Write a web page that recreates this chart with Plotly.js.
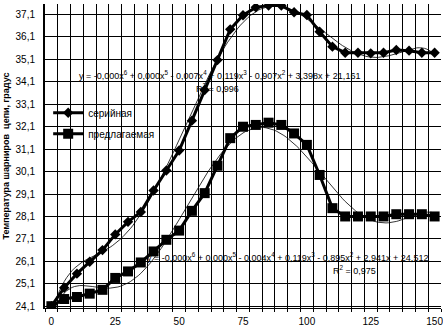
<!DOCTYPE html>
<html>
<head>
<meta charset="utf-8">
<script src="https://cdn.plot.ly/plotly-3.0.1.min.js"></script>
<style>html,body{margin:0;padding:0;background:#fff;}#chart{width:443px;height:328px;}</style>
</head>
<body>
<div id="chart"></div>
<script>
// ---- data ----
const xValues = [0,5,10,15,20,25,30,35,40,45,50,55,60,65,70,75,80,85,90,95,100,105,110,115,120,125,130,135,140,145,150];
const serialTemp = [24.1,24.92,25.55,26.08,26.6,27.3,27.86,28.3,29.26,30.15,31.04,32.37,33.74,35.07,36.44,37.07,37.42,37.5,37.5,37.2,37.08,36.33,35.67,35.4,35.4,35.37,35.4,35.52,35.49,35.4,35.4];
const proposedTemp = [24.1,24.42,24.51,24.66,24.83,25.36,25.65,26.05,26.54,27.06,27.47,28.35,29.14,30.36,31.59,32.1,32.18,32.28,32.18,31.8,31.29,29.95,28.47,28.1,28.1,28.1,28.1,28.2,28.2,28.2,28.1];
const seriesNames = ['серийная', 'предлагаемая'];
const yTickVals = [24.1,25.1,26.1,27.1,28.1,29.1,30.1,31.1,32.1,33.1,34.1,35.1,36.1,37.1];
const yTickText = ['24,1','25,1','26,1','27,1','28,1','29,1','30,1','31,1','32,1','33,1','34,1','35,1','36,1','37,1'];
const xTickVals = [0,25,50,75,100,125,150];
const eq1 = 'y = -0,000x<sup>6</sup> + 0,000x<sup>5</sup> - 0,007x<sup>4</sup> + 0,119x<sup>3</sup> - 0,907x<sup>2</sup> + 3,398x + 21,161';
const r1 = 'R<sup>2</sup> = 0,996';
const eq2 = 'y = -0,000x<sup>6</sup> + 0,000x<sup>5</sup> - 0,004x<sup>4</sup> + 0,119x<sup>3</sup> - 0,895x<sup>2</sup> + 2,941x + 24,512';
const r2 = 'R<sup>2</sup> = 0,975';
const yTitle = 'Температура шарниров  цепи, градус';

// ---- polynomial (order 6) least-squares trendline computed from the data ----
function polyFit(xs, ys, deg) {
  const n = deg + 1, c = 75, s = 75;
  const A = Array.from({length:n}, () => new Array(n).fill(0));
  const b = new Array(n).fill(0);
  xs.forEach((x, k) => {
    const u = (x - c) / s;
    const p = []; for (let j = 0; j < n; j++) p.push(Math.pow(u, j));
    for (let i = 0; i < n; i++) { b[i] += p[i] * ys[k]; for (let j = 0; j < n; j++) A[i][j] += p[i] * p[j]; }
  });
  for (let i = 0; i < n; i++) {
    let m = i; for (let r = i + 1; r < n; r++) if (Math.abs(A[r][i]) > Math.abs(A[m][i])) m = r;
    [A[i], A[m]] = [A[m], A[i]]; [b[i], b[m]] = [b[m], b[i]];
    for (let r = i + 1; r < n; r++) { const f = A[r][i] / A[i][i]; for (let j = i; j < n; j++) A[r][j] -= f * A[i][j]; b[r] -= f * b[i]; }
  }
  const coef = new Array(n).fill(0);
  for (let i = n - 1; i >= 0; i--) { let sum = b[i]; for (let j = i + 1; j < n; j++) sum -= A[i][j] * coef[j]; coef[i] = sum / A[i][i]; }
  return x => { const u = (x - c) / s; let v = 0; for (let j = n - 1; j >= 0; j--) v = v * u + coef[j]; return v; };
}
const fx = []; for (let x = xValues[0]; x <= xValues[xValues.length-1]; x += 1) fx.push(x);
const f1 = polyFit(xValues, serialTemp, 6), f2 = polyFit(xValues, proposedTemp, 6);

const FONT = 'Liberation Sans, Arial, sans-serif';
const traces = [
  {x: fx, y: fx.map(f1), mode: 'lines', line: {color: '#000', width: 0.8}, showlegend: false, hoverinfo: 'skip'},
  {x: fx, y: fx.map(f2), mode: 'lines', line: {color: '#000', width: 0.8}, showlegend: false, hoverinfo: 'skip'},
  {x: xValues, y: serialTemp, name: seriesNames[0], mode: 'lines+markers', line: {color: '#000', width: 3},
   marker: {symbol: 'diamond', size: 8, color: '#000'}, legendgroup: 'a'},
  {x: xValues, y: proposedTemp, name: seriesNames[1], mode: 'lines+markers', line: {color: '#000', width: 3},
   marker: {symbol: 'square', size: 10, color: '#000'}, legendgroup: 'b'}
];

const layout = {
  width: 443, height: 328,
  margin: {l: 45, r: 2, t: 4, b: 20, pad: 0},
  paper_bgcolor: '#fff', plot_bgcolor: '#fff',
  font: {family: FONT, size: 10, color: '#000'},
  showlegend: true,
  legend: {x: 0.008, y: 0.69, xanchor: 'left', yanchor: 'top', bgcolor: 'rgba(0,0,0,0)',
           font: {family: FONT, size: 10, color: '#000'}, traceorder: 'grouped', tracegroupgap: 2, itemwidth: 30},
  xaxis: {range: [-2.5, 152.5], tickvals: xTickVals, showgrid: false, zeroline: false,
          showline: true, linecolor: '#000', linewidth: 1, ticks: '', ticklabelstandoff: 4, ticklabeloverflow: 'allow',
          minor: {tick0: 2.5, dtick: 5, showgrid: true, gridcolor: '#000', gridwidth: 1, ticks: 'outside', ticklen: 3, tickcolor: '#000'},
          tickfont: {family: FONT, size: 10}},
  yaxis: {range: [24.02, 37.57], tickvals: yTickVals, ticktext: yTickText, showgrid: true, gridcolor: '#000', gridwidth: 1,
          zeroline: false, showline: true, linecolor: '#000', linewidth: 2, ticks: '', ticklabelstandoff: 6,
          tickfont: {family: FONT, size: 10},
          title: {text: yTitle, font: {family: FONT, size: 9, weight: 'bold'}, standoff: 4}},
  annotations: [
    {xref: 'paper', yref: 'paper', x: (219 - 45) / 396, y: (308 - 75) / 304, text: eq1, showarrow: false,
     font: {family: FONT, size: 9}, xanchor: 'center', yanchor: 'middle'},
    {xref: 'paper', yref: 'paper', x: (217 - 45) / 396, y: (308 - 88) / 304, text: r1, showarrow: false,
     font: {family: FONT, size: 9}, xanchor: 'center', yanchor: 'middle'},
    {xref: 'paper', yref: 'paper', x: (287 - 45) / 396, y: (308 - 257) / 304, text: eq2, showarrow: false,
     font: {family: FONT, size: 9}, xanchor: 'center', yanchor: 'middle'},
    {xref: 'paper', yref: 'paper', x: (354 - 45) / 396, y: (308 - 270) / 304, text: r2, showarrow: false,
     font: {family: FONT, size: 9}, xanchor: 'center', yanchor: 'middle'}
  ]
};
Plotly.newPlot('chart', traces, layout, {staticPlot: true, displayModeBar: false});
</script>
</body>
</html>
